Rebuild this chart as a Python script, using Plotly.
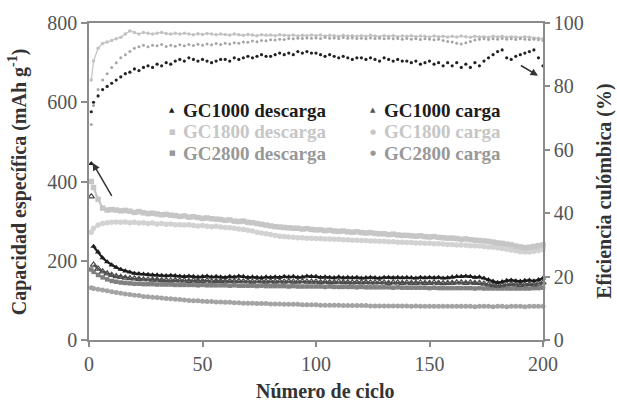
import plotly.graph_objects as go

# Cycle numbers: first cycle, then every second cycle up to 200
cycles = [1] + list(range(2, 201, 2))

# Specific capacity (mAh/g)
gc1000_descarga = [
    445, 236, 222, 207, 197, 189, 183, 178, 174, 171,
    168, 167, 166, 165, 164, 164, 163, 162, 163, 162,
    161, 160, 161, 160, 159, 160, 161, 159, 160, 159,
    158, 160, 159, 161, 160, 158, 159, 158, 157, 159,
    158, 159, 158, 160, 159, 160, 158, 159, 161, 160,
    160, 158, 159, 158, 157, 159, 157, 158, 157, 158,
    156, 157, 158, 157, 156, 158, 158, 157, 158, 157,
    158, 157, 156, 158, 157, 158, 157, 158, 156, 157,
    159, 160, 160, 161, 160, 158, 159, 156, 152, 148,
    145, 147, 150, 151, 149, 148, 150, 151, 149, 152,
    156,
]
gc1000_carga = [
    362, 190, 180, 173, 168, 164, 161, 159, 157, 156,
    155, 154, 153, 153, 152, 152, 151, 151, 150, 151,
    150, 150, 149, 150, 149, 149, 150, 148, 149, 149,
    148, 149, 148, 149, 148, 148, 147, 148, 148, 147,
    148, 147, 148, 147, 148, 147, 147, 148, 147, 147,
    147, 146, 147, 146, 146, 147, 146, 146, 145, 146,
    145, 146, 145, 145, 146, 145, 144, 145, 145, 144,
    145, 144, 144, 145, 144, 144, 145, 144, 143, 144,
    144, 145, 145, 144, 145, 144, 144, 142, 140, 138,
    137, 138, 140, 141, 140, 139, 140, 141, 140, 142,
    145,
]
gc1800_descarga = [
    400, 385, 355, 333, 328, 329, 328, 326, 327, 325,
    322, 324, 321, 319, 320, 318, 316, 317, 315, 314,
    312, 313, 310, 311, 309, 307, 308, 306, 305, 304,
    302, 303, 300, 299, 300, 297, 296, 294, 292, 290,
    288, 286, 285, 284, 283, 282, 282, 280, 281, 279,
    278, 278, 276, 277, 275, 274, 275, 273, 272, 273,
    271, 270, 271, 269, 268, 268, 266, 267, 265, 264,
    264, 263, 262, 263, 261, 260, 261, 259, 258, 257,
    257, 256, 254, 255, 253, 252, 251, 250, 249, 247,
    245, 244, 242, 240, 237, 235, 233, 234, 236, 238,
    240,
]
gc1800_carga = [
    272, 282, 290, 294, 296, 297, 298, 297, 298, 296,
    297, 295, 296, 294, 295, 293, 294, 292, 293, 291,
    291, 290, 291, 289, 288, 289, 287, 286, 287, 285,
    284, 283, 282, 280, 279, 277, 275, 272, 270, 268,
    266, 264, 262, 261, 260, 259, 258, 258, 257, 257,
    256, 256, 255, 255, 254, 254, 253, 253, 252, 252,
    251, 251, 250, 250, 249, 249, 248, 248, 247, 247,
    246, 246, 245, 245, 244, 244, 243, 243, 242, 241,
    241, 240, 240, 239, 238, 238, 237, 236, 235, 234,
    233, 231, 229, 227, 225, 223, 222, 222, 224, 226,
    228,
]
gc2800_descarga = [
    178, 172, 164, 158, 153, 149, 147, 145, 144, 143,
    142, 142, 141, 141, 141, 140, 140, 140, 140, 139,
    139, 139, 139, 139, 138, 139, 138, 138, 138, 138,
    138, 137, 138, 137, 137, 137, 137, 136, 137, 136,
    136, 136, 136, 136, 135, 136, 135, 135, 135, 135,
    135, 135, 134, 135, 134, 134, 134, 134, 134, 133,
    134, 133, 133, 133, 133, 133, 133, 132, 133, 132,
    132, 132, 132, 132, 132, 131, 132, 131, 131, 131,
    131, 131, 131, 131, 131, 130, 131, 130, 130, 130,
    130, 130, 130, 130, 130, 130, 130, 130, 131, 131,
    132,
]
gc2800_carga = [
    132, 130, 128, 126, 124, 122, 120, 118, 116, 115,
    113, 112, 110, 109, 108, 107, 106, 105, 104, 103,
    102, 101, 100, 99, 99, 98, 97, 97, 96, 96,
    95, 95, 94, 94, 93, 93, 93, 92, 92, 92,
    91, 91, 91, 90, 90, 90, 90, 89, 89, 89,
    89, 88, 88, 88, 88, 88, 87, 87, 87, 87,
    87, 87, 86, 86, 86, 86, 86, 86, 86, 86,
    86, 85, 86, 85, 85, 85, 85, 85, 85, 85,
    85, 85, 85, 85, 85, 84, 85, 85, 85, 84,
    85, 85, 84, 85, 85, 85, 84, 85, 85, 85,
    85,
]

# Coulombic efficiency (%)
ef_gc1000 = [
    72, 75, 77, 79, 80, 81, 82, 83, 84, 84.5,
    85.5, 85, 86, 86.5, 86, 87, 86.5, 87.5, 87, 88,
    88.5, 88, 89, 88.5, 88, 88.5, 88, 87.5, 88, 88.5,
    88.5, 88, 89, 88.5, 89, 89.5, 89, 89.5, 90, 89.5,
    89.5, 90, 90.5, 90, 90.5, 90, 91, 90.5, 91, 90.5,
    90.5, 90, 89.5, 90, 89.5, 89, 89.5, 89, 88.5, 89,
    89, 88.5, 89, 88.5, 88, 89, 88.5, 88, 88.5, 88,
    88, 87.5, 88, 87, 87.5, 88, 87, 87.5, 86.5, 87.5,
    86.5, 87.5, 86, 87, 86, 87.5, 86.5, 88, 89, 90,
    91, 91.5, 89, 88.5, 89.5, 90, 90.5, 91, 91.5, 89,
    86.5,
]
ef_gc1800 = [
    82, 88, 92, 93.5, 94, 94.5, 95, 95.5, 96.5, 97.5,
    97, 96.5, 97, 96.8, 96.5, 96.8, 97, 96.7, 96.5, 96.8,
    96.5, 96.8, 96.5, 96.3, 96.6, 96.4, 96.7, 96.5, 96.3, 96.5,
    96.4, 96.2, 96.5, 96.3, 96.1, 96.4, 96.2, 96.0, 96.3, 96.1,
    96.2, 96.0, 96.3, 96.1, 96.0, 96.2, 95.9, 96.1, 96.0, 96.2,
    96.0, 96.2, 95.9, 96.1, 96.0, 95.8, 96.1, 95.9, 96.0, 95.8,
    96.0, 95.8, 96.1, 95.9, 95.7, 96.0, 95.8, 96.0, 95.7, 95.9,
    95.8, 96.0, 95.7, 95.9, 95.8, 95.6, 95.9, 95.7, 95.8, 95.6,
    95.8, 95.6, 95.9, 95.7, 95.5, 95.8, 95.6, 95.7, 95.5, 95.8,
    95.6, 95.8, 95.5, 95.7, 95.6, 95.4, 95.7, 95.5, 95.3, 95.2,
    95.0,
]
ef_gc2800 = [
    68, 74, 79, 82, 84, 86, 87.5, 89, 90, 91,
    92, 92.5, 93, 92.5, 93, 92.8, 93.2, 92.6, 93, 92.7,
    93.1, 92.8, 93.2, 92.9, 93.3, 93, 93.4, 93.1, 93.5, 93.2,
    93.6, 93.4, 93.8, 93.6, 94, 93.9, 94.3, 94.1, 94.5, 94.4,
    94.7, 94.6, 94.9, 94.8, 95.1, 95, 95.2, 95.1, 95.3, 95.2,
    95.3, 95.1, 95.4, 95.2, 95.3, 95.1, 95.4, 95.2, 95.3, 95.1,
    95.2, 95.0, 95.3, 95.1, 95.2, 95.0, 95.2, 95.0, 95.1, 94.9,
    95.1, 94.9, 95.0, 94.8, 95.0, 94.9, 94.7, 94.9, 94.5, 94.2,
    94.0, 93.6, 93.4, 93.8, 94.2, 94.6, 94.9, 95.0, 94.8, 95.0,
    94.9, 95.1, 94.9, 95.0, 94.8, 95.0, 94.9, 94.8, 94.9, 94.7,
    94.5,
]

for s in (gc1000_descarga, gc1000_carga, gc1800_descarga, gc1800_carga,
          gc2800_descarga, gc2800_carga, ef_gc1000, ef_gc1800, ef_gc2800):
    assert len(s) == len(cycles)

x_ticks = [0, 50, 100, 150, 200]
y_ticks = [0, 200, 400, 600, 800]
y2_ticks = [0, 20, 40, 60, 80, 100]

C1000 = "#1c1c1c"
C1000C = "#4d4d4d"
C1800 = "#c6c6c6"
C1800C = "#d2d2d2"
C2800 = "#808080"
C2800C = "#a4a4a4"

FONT = "Liberation Serif"

fig = go.Figure()

def cap(y, color, symbol, size, lw=0, width=2.2):
    # first cycle drawn as a loose point, the rest as a connected band
    fig.add_trace(go.Scatter(
        x=cycles[1:], y=y[1:], mode="lines+markers", yaxis="y",
        cliponaxis=False, showlegend=False,
        line=dict(color=color, width=width),
        marker=dict(color=color, symbol=symbol, size=size,
                    line=dict(width=lw, color=color)),
    ))
    fig.add_trace(go.Scatter(
        x=cycles[:1], y=y[:1], mode="markers", yaxis="y",
        cliponaxis=False, showlegend=False,
        marker=dict(color=color, symbol=symbol, size=size,
                    line=dict(width=lw, color=color)),
    ))

def eff(y, color, size, mode="markers", width=1):
    fig.add_trace(go.Scatter(
        x=cycles, y=y, mode=mode, yaxis="y2", cliponaxis=False,
        showlegend=False, line=dict(color=color, width=width),
        marker=dict(color=color, symbol="circle", size=size, line=dict(width=0)),
    ))

eff(ef_gc1800, "#c2c2c2", 3.5, "lines+markers", 1.2)
eff(ef_gc2800, "#a6a6a6", 3)
eff(ef_gc1000, "#222222", 3.2)

cap(gc1800_carga, C1800C, "circle", 5.5)
cap(gc1800_descarga, C1800, "square", 5.5)
cap(gc2800_carga, C2800C, "circle", 5)
cap(gc2800_descarga, C2800, "square", 4.5)
cap(gc1000_carga, C1000C, "triangle-up-open", 5.5, 1.2, 1.8)
cap(gc1000_descarga, C1000, "triangle-up", 5.5)

axis_common = dict(
    showline=True, linecolor="#8c8c8c", linewidth=1.5,
    ticks="outside", tickcolor="#8c8c8c", tickwidth=1.5,
    showgrid=False, zeroline=False,
    tickfont=dict(family=FONT, size=20, color="#555555"),
)

fig.update_layout(
    width=617, height=401,
    margin=dict(l=89, r=74, t=20, b=61),
    paper_bgcolor="white", plot_bgcolor="white",
    font=dict(family=FONT),
    xaxis=dict(range=[0, 200], tickvals=x_ticks, ticklen=5, mirror=True,
               **axis_common),
    yaxis=dict(range=[0, 800], tickvals=y_ticks, ticklen=6, **axis_common),
    yaxis2=dict(range=[0, 100], tickvals=y2_ticks, ticklen=5, overlaying="y",
                side="right", **axis_common),
)

title_font = dict(family=FONT, size=20, color="#333333")
fig.add_annotation(text="<b>Número de ciclo</b>", xref="paper", yref="paper",
                   x=0.52, y=-0.162, showarrow=False, font=title_font,
                   xanchor="center", yanchor="middle")
fig.add_annotation(text="<b>Capacidad específica (mAh g<sup>-1</sup>)</b>",
                   xref="paper", yref="paper", x=-0.157, y=0.5,
                   textangle=-90, showarrow=False, font=title_font,
                   xanchor="center", yanchor="middle")
fig.add_annotation(text="<b>Eficiencia culómbica (%)</b>",
                   xref="paper", yref="paper", x=1.134, y=0.47,
                   textangle=-90, showarrow=False, font=title_font,
                   xanchor="center", yanchor="middle")

# Legend block drawn as two columns of labels
legend_rows = [
    ("GC1000 descarga", "GC1000 carga", C1000, "▲", "▲", C1000, "#555555"),
    ("GC1800 descarga", "GC1800 carga", C1800, "■", "●", C1800, C1800),
    ("GC2800 descarga", "GC2800 carga", "#989898", "■", "●", "#989898", "#989898"),
]
row_y = [0.725, 0.657, 0.589]
for (l1, l2, tc, s1, s2, m1, m2), yy in zip(legend_rows, row_y):
    for lab, sym, mc, xm, xt in ((l1, s1, m1, 0.183, 0.203), (l2, s2, m2, 0.626, 0.645)):
        fig.add_annotation(text=sym, xref="paper", yref="paper", x=xm, y=yy,
                           showarrow=False, xanchor="center", yanchor="middle",
                           font=dict(family="DejaVu Sans", size=7, color=mc))
        fig.add_annotation(text="<b>" + lab + "</b>", xref="paper", yref="paper",
                           x=xt, y=yy, showarrow=False, xanchor="left",
                           yanchor="middle",
                           font=dict(family=FONT, size=19, color=tc))

# Arrows pointing to the axis each group of series uses
fig.add_annotation(x=1.6, y=447, ax=10.4, ay=360, xref="x", yref="y",
                   axref="x", ayref="y", showarrow=True, arrowhead=2,
                   arrowsize=1, arrowwidth=1.5, arrowcolor="#333333", text="")
fig.add_annotation(x=197.8, y=667, ax=189.6, ay=695, xref="x", yref="y",
                   axref="x", ayref="y", showarrow=True, arrowhead=2,
                   arrowsize=1, arrowwidth=1.5, arrowcolor="#333333", text="")

fig.write_html("out.html")
